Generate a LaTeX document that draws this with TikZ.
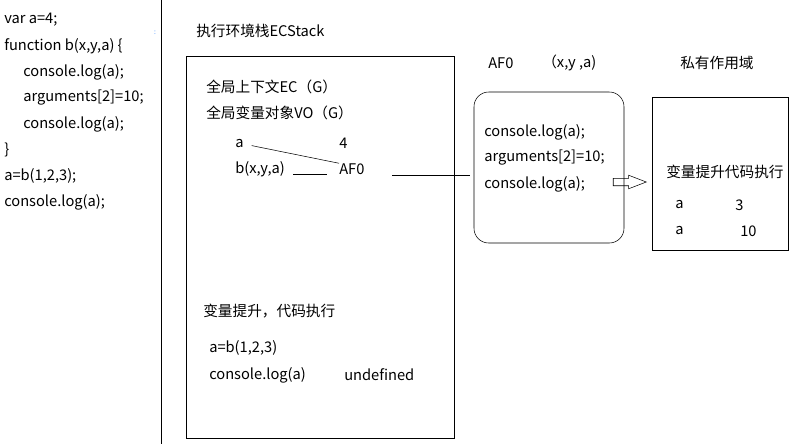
\documentclass[tikz,border=0pt]{standalone}
\usepackage{fontspec}
\setmainfont{Noto Sans CJK SC}
\usetikzlibrary{shapes,shapes.arrows,arrows.meta,positioning}
\tikzset{
    x=0.75pt, y=-0.75pt, semithick,
    txt/.style = {anchor=west, inner sep=0pt, font=\fontsize{11}{13}\selectfont},
    box/.style = {draw, inner sep=0pt},
    hollow/.style = {single arrow, draw, inner xsep=0pt, inner ysep=2.6pt, minimum height=24.75pt,
                     single arrow head extend=2.25pt, single arrow tip angle=42, anchor=tip}
}

\begin{document}
\begin{tikzpicture}
    \useasboundingbox (0,0) rectangle (807,444);
    % code on the left
    \node (c1) at (4,20) [txt] {var a=4;};
    \node (c2) at (4,46) [txt] {function b(x,y,a) \{};
    \node (c3) at (23,72) [txt] {console.log(a);};
    \node (c4) at (23,98) [txt] {arguments[2]=10;};
    \node (c5) at (23,124) [txt] {console.log(a);};
    \node (c6) at (4,150) [txt] {\}};
    \node (c7) at (4,176) [txt] {a=b(1,2,3);};
    \node (c8) at (4,202) [txt] {console.log(a);};
    \coordinate (top) at (161,0);
    \coordinate (bot) at (161,444);
    \path (top) edge (bot);
    \node (dots) at (155,33) [font=\tiny, text=blue!60!cyan, inner sep=0pt] {:};

    % ECStack
    \node (ecs) at (196,31) [txt] {执行环境栈ECStack};
    \node (stack) at (320,247) [box, minimum width=201pt, minimum height=286.5pt] {};
    \node (ec) at (206,87) [txt] {全局上下文EC（G）};
    \node (vo) at (206,113) [txt] {全局变量对象VO（G）};
    \node (va) at (235,144) [txt] {a};
    \node (v4) at (339,143) [txt] {4};
    \node (bxya) at (235,169) [txt] {b(x,y,a)};
    \node (af0) at (339,169) [txt] {AF0};
    \node (hoist) at (203,311) [txt] {变量提升，代码执行};
    \node (call) at (209,348) [txt] {a=b(1,2,3)};
    \node (log) at (209,375) [txt] {console.log(a)};
    \node (undef) at (344,375) [txt] {undefined};
    \path[shorten <=6pt] (va.east) edge (af0.north west);
    \draw ([xshift=6pt,yshift=-1pt]bxya.base east) -- ([xshift=-9pt,yshift=-1pt]bxya.base east -| af0.west);

    % heap AF0
    \node (aft) at (488,63) [txt] {AF0};
    \node (args) at (542,63) [txt] {（x,y ,a)};
    \node (afbox) at (549,167.5) [box, rounded corners=11pt, minimum width=112.5pt, minimum height=113.25pt] {};
    \node (f1) at (484,132) [txt] {console.log(a);};
    \node (f2) at (484,158) [txt] {arguments[2]=10;};
    \node (f3) at (484,184) [txt] {console.log(a);};
    \coordinate (l1) at (392,175);
    \coordinate (l2) at (470,175);
    \path (l1) edge (l2);

    % private scope
    \node (pt) at (680,63) [txt] {私有作用域};
    \node (scope) at (720,173.5) [box, minimum width=102pt, minimum height=114.75pt] {};
    \node (s1) at (666,172) [txt] {变量提升代码执行};
    \node (sa1) at (675,205) [txt] {a};
    \node (s3) at (735,205) [txt] {3};
    \node (sa2) at (675,231) [txt] {a};
    \node (s10) at (740,231) [txt] {10};
    \node (arr) at (647,182) [hollow] {};
\end{tikzpicture}
\end{document}
